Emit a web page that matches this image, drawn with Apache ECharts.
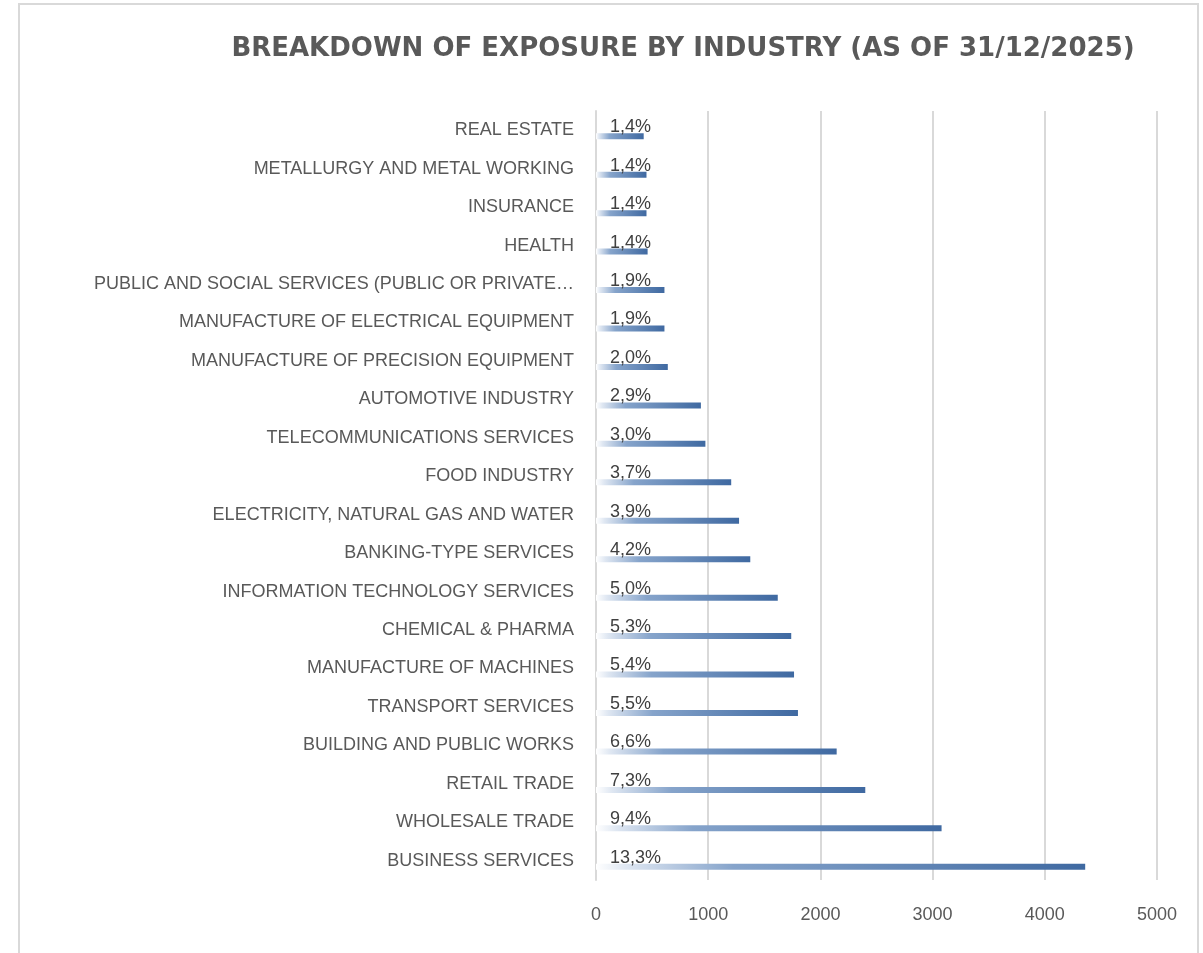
<!DOCTYPE html>
<html>
<head>
<meta charset="utf-8">
<script src="https://cdn.jsdelivr.net/npm/echarts@6/dist/echarts.min.js"></script>
<style>
  html, body { margin: 0; padding: 0; background: #fff; }
  #frame {
    position: absolute; left: 18px; top: 3px; width: 1181px; height: 970px;
    border: 2px solid #d9d9d9; box-sizing: border-box;
  }
  #chart { position: absolute; left: 0; top: 0; width: 1203px; height: 953px; }
</style>
</head>
<body>
<div id="frame"></div>
<div id="chart"></div>
<script>
// categories top to bottom, as in the picture
const industries = [
  'REAL ESTATE',
  'METALLURGY AND METAL WORKING',
  'INSURANCE',
  'HEALTH',
  'PUBLIC AND SOCIAL SERVICES (PUBLIC OR PRIVATE…',
  'MANUFACTURE OF ELECTRICAL EQUIPMENT',
  'MANUFACTURE OF PRECISION EQUIPMENT',
  'AUTOMOTIVE INDUSTRY',
  'TELECOMMUNICATIONS SERVICES',
  'FOOD INDUSTRY',
  'ELECTRICITY, NATURAL GAS AND WATER',
  'BANKING-TYPE SERVICES',
  'INFORMATION TECHNOLOGY SERVICES',
  'CHEMICAL & PHARMA',
  'MANUFACTURE OF MACHINES',
  'TRANSPORT SERVICES',
  'BUILDING AND PUBLIC WORKS',
  'RETAIL TRADE',
  'WHOLESALE TRADE',
  'BUSINESS SERVICES'
];
const exposure = [
  425, 450, 450, 460, 610, 610, 640, 935, 975, 1205,
  1275, 1375, 1620, 1740, 1765, 1800, 2145, 2400, 3080, 4360
];
const shares = [
  '1,4%', '1,4%', '1,4%', '1,4%', '1,9%', '1,9%', '2,0%', '2,9%', '3,0%', '3,7%',
  '3,9%', '4,2%', '5,0%', '5,3%', '5,4%', '5,5%', '6,6%', '7,3%', '9,4%', '13,3%'
];
const xTicks = [0, 1000, 2000, 3000, 4000, 5000];

const myChart = echarts.init(document.getElementById('chart'));

const barColor = new echarts.graphic.LinearGradient(0, 0, 1, 0, [
  { offset: 0, color: '#ffffff' },
  { offset: 0.06, color: '#dfe7f2' },
  { offset: 0.28, color: '#86a4cb' },
  { offset: 1, color: '#3f69a1' }
]);

const option = {
  animation: false,
  textStyle: { fontFamily: 'Liberation Sans' },
  title: {
    text: 'BREAKDOWN OF EXPOSURE BY INDUSTRY (AS OF 31/12/2025)',
    left: 678,
    textAlign: 'center',
    top: 31,
    textStyle: {
      color: '#595959',
      fontSize: 26,
      fontWeight: 'bold',
      fontFamily: 'DejaVu Sans'
    }
  },
  grid: { left: 596, right: 46, top: 111, bottom: 73 },
  xAxis: {
    type: 'value',
    min: xTicks[0],
    max: xTicks[xTicks.length - 1],
    interval: 1000,
    axisLine: { show: false },
    axisTick: { show: false },
    splitLine: { lineStyle: { color: '#d9d9d9', width: 2 } },
    axisLabel: { color: '#595959', fontSize: 18, margin: 26, formatter: v => String(v) }
  },
  yAxis: {
    type: 'category',
    inverse: true,
    data: industries,
    axisLine: { show: true, lineStyle: { color: '#d9d9d9', width: 2 } },
    axisTick: { show: false },
    axisLabel: { color: '#595959', fontSize: 18, margin: 22 }
  },
  series: [
    {
      name: 'spacer',
      type: 'bar',
      barWidth: 6,
      barGap: '100%',
      silent: true,
      itemStyle: { color: 'rgba(0,0,0,0)' },
      data: exposure
    },
    {
      name: 'Exposure',
      type: 'bar',
      barWidth: 6,
      itemStyle: { color: barColor },
      label: {
        show: true,
        position: [14, -6],
        align: 'left',
        verticalAlign: 'middle',
        color: '#404040',
        fontSize: 18,
        formatter: p => shares[p.dataIndex]
      },
      data: exposure
    }
  ]
};

myChart.setOption(option);
window.addEventListener('resize', () => myChart.resize(), false);
</script>
</body>
</html>
